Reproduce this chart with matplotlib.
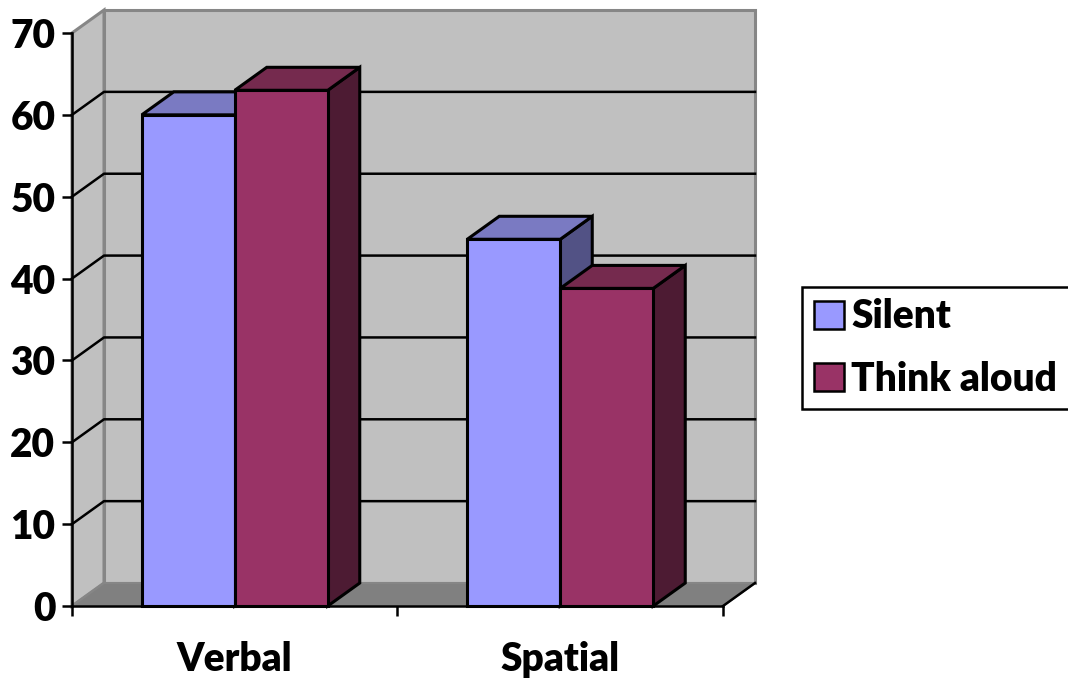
import matplotlib
import matplotlib.patches as mpatches
from matplotlib import pyplot as plt

matplotlib.use('Agg')
plt.rc('font', family=['Lato', 'DejaVu Sans'], weight='heavy')

categories = ['Verbal', 'Spatial']
silent = [60, 44.8]
think_aloud = [63, 38.8]
series_names = ['Silent', 'Think aloud']
y_ticks = [0, 10, 20, 30, 40, 50, 60, 70]

# colours for front, top and side of each bar
colors_silent = ['#9999ff', '#7a7ac2', '#525285']
colors_think = ['#993366', '#752a4e', '#4d1b33']
WALL = '#c0c0c0'
FLOOR = '#808080'
EDGE = '#868686'

W, H = 1068, 682
# depth of the fake 3d box, in data units
DX = 32 / 325.5
DY = 23 / 8.19
BAR_W = 93 / 325.5


def poly(ax, pts, face, edge='black', lw=2.2, z=1):
    ax.add_patch(mpatches.Polygon(pts, closed=True, facecolor=face, edgecolor=edge,
                                  linewidth=lw, joinstyle='miter', clip_on=False, zorder=z))


def bar3d(ax, x0, val, colors, z):
    x1 = x0 + BAR_W
    poly(ax, [(x1, 0), (x1 + DX, DY), (x1 + DX, val + DY), (x1, val)], colors[2], z=z)
    poly(ax, [(x0, val), (x0 + DX, val + DY), (x1 + DX, val + DY), (x1, val)], colors[1], z=z)
    poly(ax, [(x0, 0), (x1, 0), (x1, val), (x0, val)], colors[0], z=z)


def main():
    fig = plt.figure(figsize=(W / 100, H / 100), dpi=100)
    ax = fig.add_axes([72 / W, 1 - 606 / H, 651 / W, 573 / H])
    ax.set_xlim(-0.5, 1.5)
    ax.set_ylim(0, 70)
    ax.patch.set_visible(False)
    for name in ['top', 'right']:
        ax.spines[name].set_visible(False)
    for name in ['left', 'bottom']:
        ax.spines[name].set_linewidth(1.8)
        ax.spines[name].set_zorder(5)

    x_l, x_r = -0.5, 1.5
    top = y_ticks[-1]
    # walls and floor
    poly(ax, [(x_l + DX, DY), (x_r + DX, DY), (x_r + DX, top + DY), (x_l + DX, top + DY)], WALL, EDGE, z=0.5)
    poly(ax, [(x_l, 0), (x_l + DX, DY), (x_l + DX, top + DY), (x_l, top)], WALL, EDGE, z=0.6)
    poly(ax, [(x_l, 0), (x_r, 0), (x_r + DX, DY), (x_l + DX, DY)], FLOOR, EDGE, lw=1.5, z=0.7)
    ax.plot([x_r, x_r + DX], [0, DY], color='black', lw=1.8, clip_on=False, zorder=0.8)

    # gridlines run along the side wall and the back wall
    for t in y_ticks[1:-1]:
        ax.plot([x_l, x_l + DX, x_r + DX], [t, t + DY, t + DY], color='black', lw=1.8,
                clip_on=False, zorder=0.9)

    for i in range(len(categories)):
        bar3d(ax, i - BAR_W, silent[i], colors_silent, 2 + i)
        bar3d(ax, i, think_aloud[i], colors_think, 2.5 + i)

    ax.set_yticks(y_ticks)
    ax.set_xticks([0, 1])
    ax.set_xticklabels(categories)
    ax.set_xticks([-0.5, 0.5, 1.5], minor=True)
    ax.tick_params(axis='y', length=7, width=1.8, labelsize=28, pad=5)
    ax.tick_params(axis='x', which='major', length=0, labelsize=28, pad=25)
    ax.tick_params(axis='x', which='minor', length=7, width=1.8)

    handles = [mpatches.Patch(facecolor=colors_silent[0], edgecolor='black', linewidth=1.8),
               mpatches.Patch(facecolor=colors_think[0], edgecolor='black', linewidth=1.8)]
    leg = fig.legend(handles, series_names, loc='center left', bbox_to_anchor=(802 / W, 1 - 348 / H),
                     borderaxespad=0, fancybox=False, edgecolor='black', framealpha=1, fontsize=28,
                     handlelength=0.77, handleheight=0.72, handletextpad=0.2, labelspacing=0.65,
                     borderpad=0.3)
    leg.get_frame().set_linewidth(1.8)

    fig.savefig('out.png', dpi=100)
    plt.close(fig)


if __name__ == '__main__':
    main()
